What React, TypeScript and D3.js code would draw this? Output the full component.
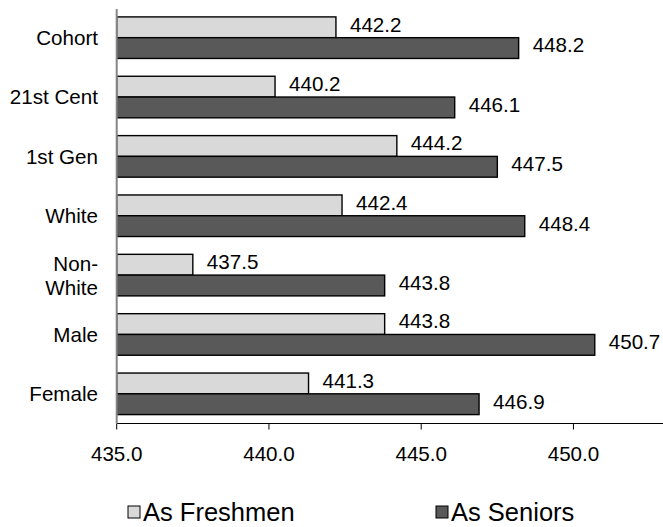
import React from "react";
import * as d3 from "d3";

const categories = ["Cohort", "21st Cent", "1st Gen", "White", "Non-White", "Male", "Female"];
const categoryLines = [["Cohort"], ["21st Cent"], ["1st Gen"], ["White"], ["Non-", "White"], ["Male"], ["Female"]];
const freshmen = [442.2, 440.2, 444.2, 442.4, 437.5, 443.8, 441.3];
const seniors = [448.2, 446.1, 447.5, 448.4, 443.8, 450.7, 446.9];
const xTicks = [435, 440, 445, 450];
const seriesNames = ["As Freshmen", "As Seniors"];
const seriesColors = ["#d9d9d9", "#595959"];

const W = 663;
const H = 527;
const FONT = "'Liberation Sans', Arial, sans-serif";
const FS = 20.6;
const LEG_FS = 25.5;

export default function App() {
  const x = d3.scaleLinear().domain([435, 453]).range([116.7, 664.8]);
  const y = d3.scaleBand<string>().domain(categories).range([8, 423.5]).paddingInner(0.3).paddingOuter(0.15);
  const sub = d3.scaleBand<number>().domain([0, 1]).range([0, y.bandwidth()]);
  const axisY = 423.5;
  const series = [freshmen, seniors];

  return (
    <svg width={W} height={H} style={{ position: "fixed", left: 0, top: 0, background: "#fff" }} fontFamily={FONT}>
      {categories.map((c, i) => (
        <g key={c}>
          {series.map((vals, s) => {
            const top = (y(c) as number) + (sub(s) as number);
            const end = x(vals[i]);
            return (
              <g key={s}>
                <rect x={x(435)} y={top} width={end - x(435)} height={sub.bandwidth()} fill={seriesColors[s]} stroke="#000" strokeWidth={1.4} />
                <text x={end + 14} y={top + 14.8} fontSize={FS} fill="#000">{vals[i].toFixed(1)}</text>
              </g>
            );
          })}
          {categoryLines[i].map((line, li, arr) => {
            const cy = (y(c) as number) + y.bandwidth() / 2 + (li - (arr.length - 1) / 2) * 24;
            return (
              <text key={li} x={98} y={cy + 7.4} fontSize={FS} textAnchor="end" fill="#000">{line}</text>
            );
          })}
        </g>
      ))}
      <line x1={x(435)} x2={W} y1={axisY} y2={axisY} stroke="#000" strokeWidth={1} />
      {xTicks.map((t) => (
        <g key={t}>
          <line x1={x(t)} x2={x(t)} y1={axisY} y2={axisY + 6} stroke="#000" strokeWidth={1} />
          <text x={x(t)} y={axisY + 37} fontSize={FS} textAnchor="middle" fill="#000">{t.toFixed(1)}</text>
        </g>
      ))}
      <line x1={x(435)} x2={x(435)} y1={9} y2={axisY} stroke="#868686" strokeWidth={2} />
      {seriesNames.map((n, s) => {
        const lx = [128, 436][s];
        return (
          <g key={n}>
            <rect x={lx} y={506} width={12} height={12} fill={seriesColors[s]} stroke="#000" strokeWidth={1} />
            <text x={lx + 15} y={521} fontSize={LEG_FS} fill="#000">{n}</text>
          </g>
        );
      })}
    </svg>
  );
}
